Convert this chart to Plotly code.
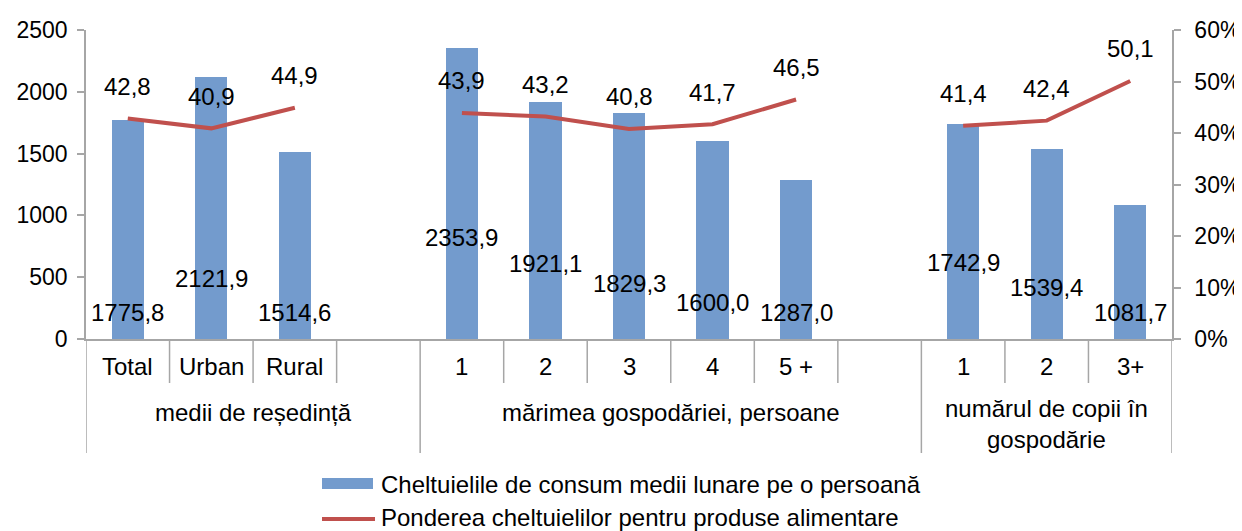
import plotly.graph_objects as go

# ---------------- data ----------------
group_names = ["medii de reședință", "mărimea gospodăriei, persoane", "numărul de copii în<br>gospodărie"]
cats_res = ["Total", "Urban", "Rural"]
cats_size = ["1", "2", "3", "4", "5 +"]
cats_kids = ["1", "2", "3+"]

spend_res = [1775.8, 2121.9, 1514.6]
spend_size = [2353.9, 1921.1, 1829.3, 1600.0, 1287.0]
spend_kids = [1742.9, 1539.4, 1081.7]

food_res = [42.8, 40.9, 44.9]
food_size = [43.9, 43.2, 40.8, 41.7, 46.5]
food_kids = [41.4, 42.4, 50.1]

y_ticks_left = [0, 500, 1000, 1500, 2000, 2500]
y_ticks_right = [0, 10, 20, 30, 40, 50, 60]
y_ticks_right_text = ["0%", "10%", "20%", "30%", "40%", "50%", "60%"]

series_name_bar = "Cheltuielile de consum medii lunare pe o persoană"
series_name_line = "Ponderea cheltuielilor pentru produse alimentare"

# ---------------- layout helpers (positions / styles) ----------------
trailing_blank = [1, 1, 0]                      # empty slots after each group
bar_label_pos_res = [214, 489, 214]             # label heights (left-axis units)
bar_label_pos_size = [818, 612, 447, 297, 214]
bar_label_pos_kids = [618, 417, 214]

FONT = "Arial, Liberation Sans, sans-serif"
FS = 24        # labels, legend
FS_TICK = 23   # axis tick labels
BAR_COLOR = "#739bcd"
LINE_COLOR = "#c0504d"
AXIS_COLOR = "#a6a6a6"

# page has an 8px body margin: figure is drawn 8px smaller and shifted
PAGE_OFF = 8
W, H = 1242 - PAGE_OFF, 531 - PAGE_OFF
PLOT_L, PLOT_R, PLOT_T, PLOT_B = 86, 1172, 30, 339   # reference pixel coords

groups_cats = [cats_res, cats_size, cats_kids]
groups_spend = [spend_res, spend_size, spend_kids]
groups_food = [food_res, food_size, food_kids]
groups_lblpos = [bar_label_pos_res, bar_label_pos_size, bar_label_pos_kids]

xs, cat_labels, spend, food, lblpos = [], [], [], [], []
group_spans = []
slot = 0
for g, cats in enumerate(groups_cats):
    start = slot
    for i, c in enumerate(cats):
        xs.append(slot)
        cat_labels.append(c)
        spend.append(groups_spend[g][i])
        food.append(groups_food[g][i])
        lblpos.append(groups_lblpos[g][i])
        slot += 1
    for _ in range(trailing_blank[g]):
        xs.append(slot)
        cat_labels.append("")
        spend.append(None)
        food.append(None)
        lblpos.append(None)
        slot += 1
    group_spans.append((start, slot - 1, len(cats)))
n_slots = slot

fig = go.Figure()
fig.add_trace(go.Bar(
    x=xs, y=spend, width=0.385, marker=dict(color=BAR_COLOR, line=dict(width=0)),
    name=series_name_bar, showlegend=False, hoverinfo="y"))
fig.add_trace(go.Scatter(
    x=xs, y=food, yaxis="y2", mode="lines", connectgaps=False,
    line=dict(color=LINE_COLOR, width=4), name=series_name_line,
    showlegend=False))

ann = []
shapes = []
for x, v, p, f in zip(xs, spend, lblpos, food):
    if v is None:
        continue
    ann.append(dict(x=x, y=p, xref="x", yref="y", text=f"{v:.1f}".replace(".", ","),
                    showarrow=False, yanchor="middle", xanchor="center",
                    font=dict(family=FONT, size=FS, color="black")))
    ann.append(dict(x=x, y=f, xref="x", yref="y2", text=f"{f:.1f}".replace(".", ","),
                    showarrow=False, yanchor="middle", xanchor="center", yshift=32,
                    font=dict(family=FONT, size=FS, color="black")))


def py(p):
    return (PLOT_B - p) / float(PLOT_B - PLOT_T)


def px(p):
    return (p - PLOT_L) / float(PLOT_R - PLOT_L)


for x, c in zip(xs, cat_labels):
    if c:
        ann.append(dict(x=x, y=py(366), xref="x", yref="paper", text=c, showarrow=False,
                        yanchor="middle", xanchor="center",
                        font=dict(family=FONT, size=FS, color="black")))
for g, (s, e, ncat) in enumerate(group_spans):
    ann.append(dict(x=(s + e) / 2.0, y=py(412) if g < 2 else py(424), xref="x", yref="paper",
                    text=group_names[g], showarrow=False, yanchor="middle", xanchor="center",
                    font=dict(family=FONT, size=FS, color="black")))
    shapes.append(dict(type="line", xref="x", yref="paper", x0=s - 0.5, x1=s - 0.5,
                       y0=py(339), y1=py(453), line=dict(color=AXIS_COLOR, width=1.5)))
    for k in range(1, ncat + 1):
        xb = s + k - 0.5
        if xb == n_slots - 0.5:
            continue
        shapes.append(dict(type="line", xref="x", yref="paper", x0=xb, x1=xb,
                           y0=py(339), y1=py(383), line=dict(color=AXIS_COLOR, width=1.5)))
shapes.append(dict(type="line", xref="x", yref="paper", x0=n_slots - 0.5, x1=n_slots - 0.5,
                   y0=py(339), y1=py(453), line=dict(color=AXIS_COLOR, width=1.5)))

# legend (drawn manually)
shapes.append(dict(type="rect", xref="paper", yref="paper", x0=px(322), x1=px(373),
                   y0=py(489), y1=py(478), fillcolor=BAR_COLOR, line=dict(width=0)))
shapes.append(dict(type="line", xref="paper", yref="paper", x0=px(322), x1=px(375),
                   y0=py(519), y1=py(519), line=dict(color=LINE_COLOR, width=4)))
ann.append(dict(x=px(379), y=py(484), xref="paper", yref="paper", text=series_name_bar,
                showarrow=False, xanchor="left", yanchor="middle",
                font=dict(family=FONT, size=FS, color="black")))
ann.append(dict(x=px(379), y=py(517), xref="paper", yref="paper", text=series_name_line,
                showarrow=False, xanchor="left", yanchor="middle",
                font=dict(family=FONT, size=FS, color="black")))

fig.update_layout(
    width=W, height=H,
    margin=dict(l=PLOT_L - PAGE_OFF, r=W - (PLOT_R - PAGE_OFF), t=PLOT_T - PAGE_OFF,
                b=H - (PLOT_B - PAGE_OFF), autoexpand=False),
    paper_bgcolor="white", plot_bgcolor="white",
    font=dict(family=FONT, size=FS, color="black"),
    showlegend=False,
    bargap=0,
    xaxis=dict(range=[-0.5, n_slots - 0.5], showticklabels=False, showgrid=False,
               zeroline=False, showline=True, linecolor=AXIS_COLOR, linewidth=1.5,
               ticks="", fixedrange=True),
    yaxis=dict(range=[0, 2500], tickvals=y_ticks_left, showgrid=False, zeroline=False,
               showline=True, linecolor=AXIS_COLOR, linewidth=1.5, ticks="outside",
               ticklen=7, tickcolor=AXIS_COLOR, tickwidth=1.5, ticklabelstandoff=5,
               tickfont=dict(family=FONT, size=FS_TICK, color="black")),
    yaxis2=dict(range=[0, 60], tickvals=y_ticks_right, ticktext=y_ticks_right_text,
                overlaying="y", side="right", showgrid=False, zeroline=False, showline=True,
                linecolor=AXIS_COLOR, linewidth=1.5, ticks="outside", ticklen=7,
                tickcolor=AXIS_COLOR, tickwidth=1.5, ticklabelstandoff=9,
                tickfont=dict(family=FONT, size=FS_TICK, color="black")),
    annotations=ann,
    shapes=shapes,
)

fig.write_html("out.html")
